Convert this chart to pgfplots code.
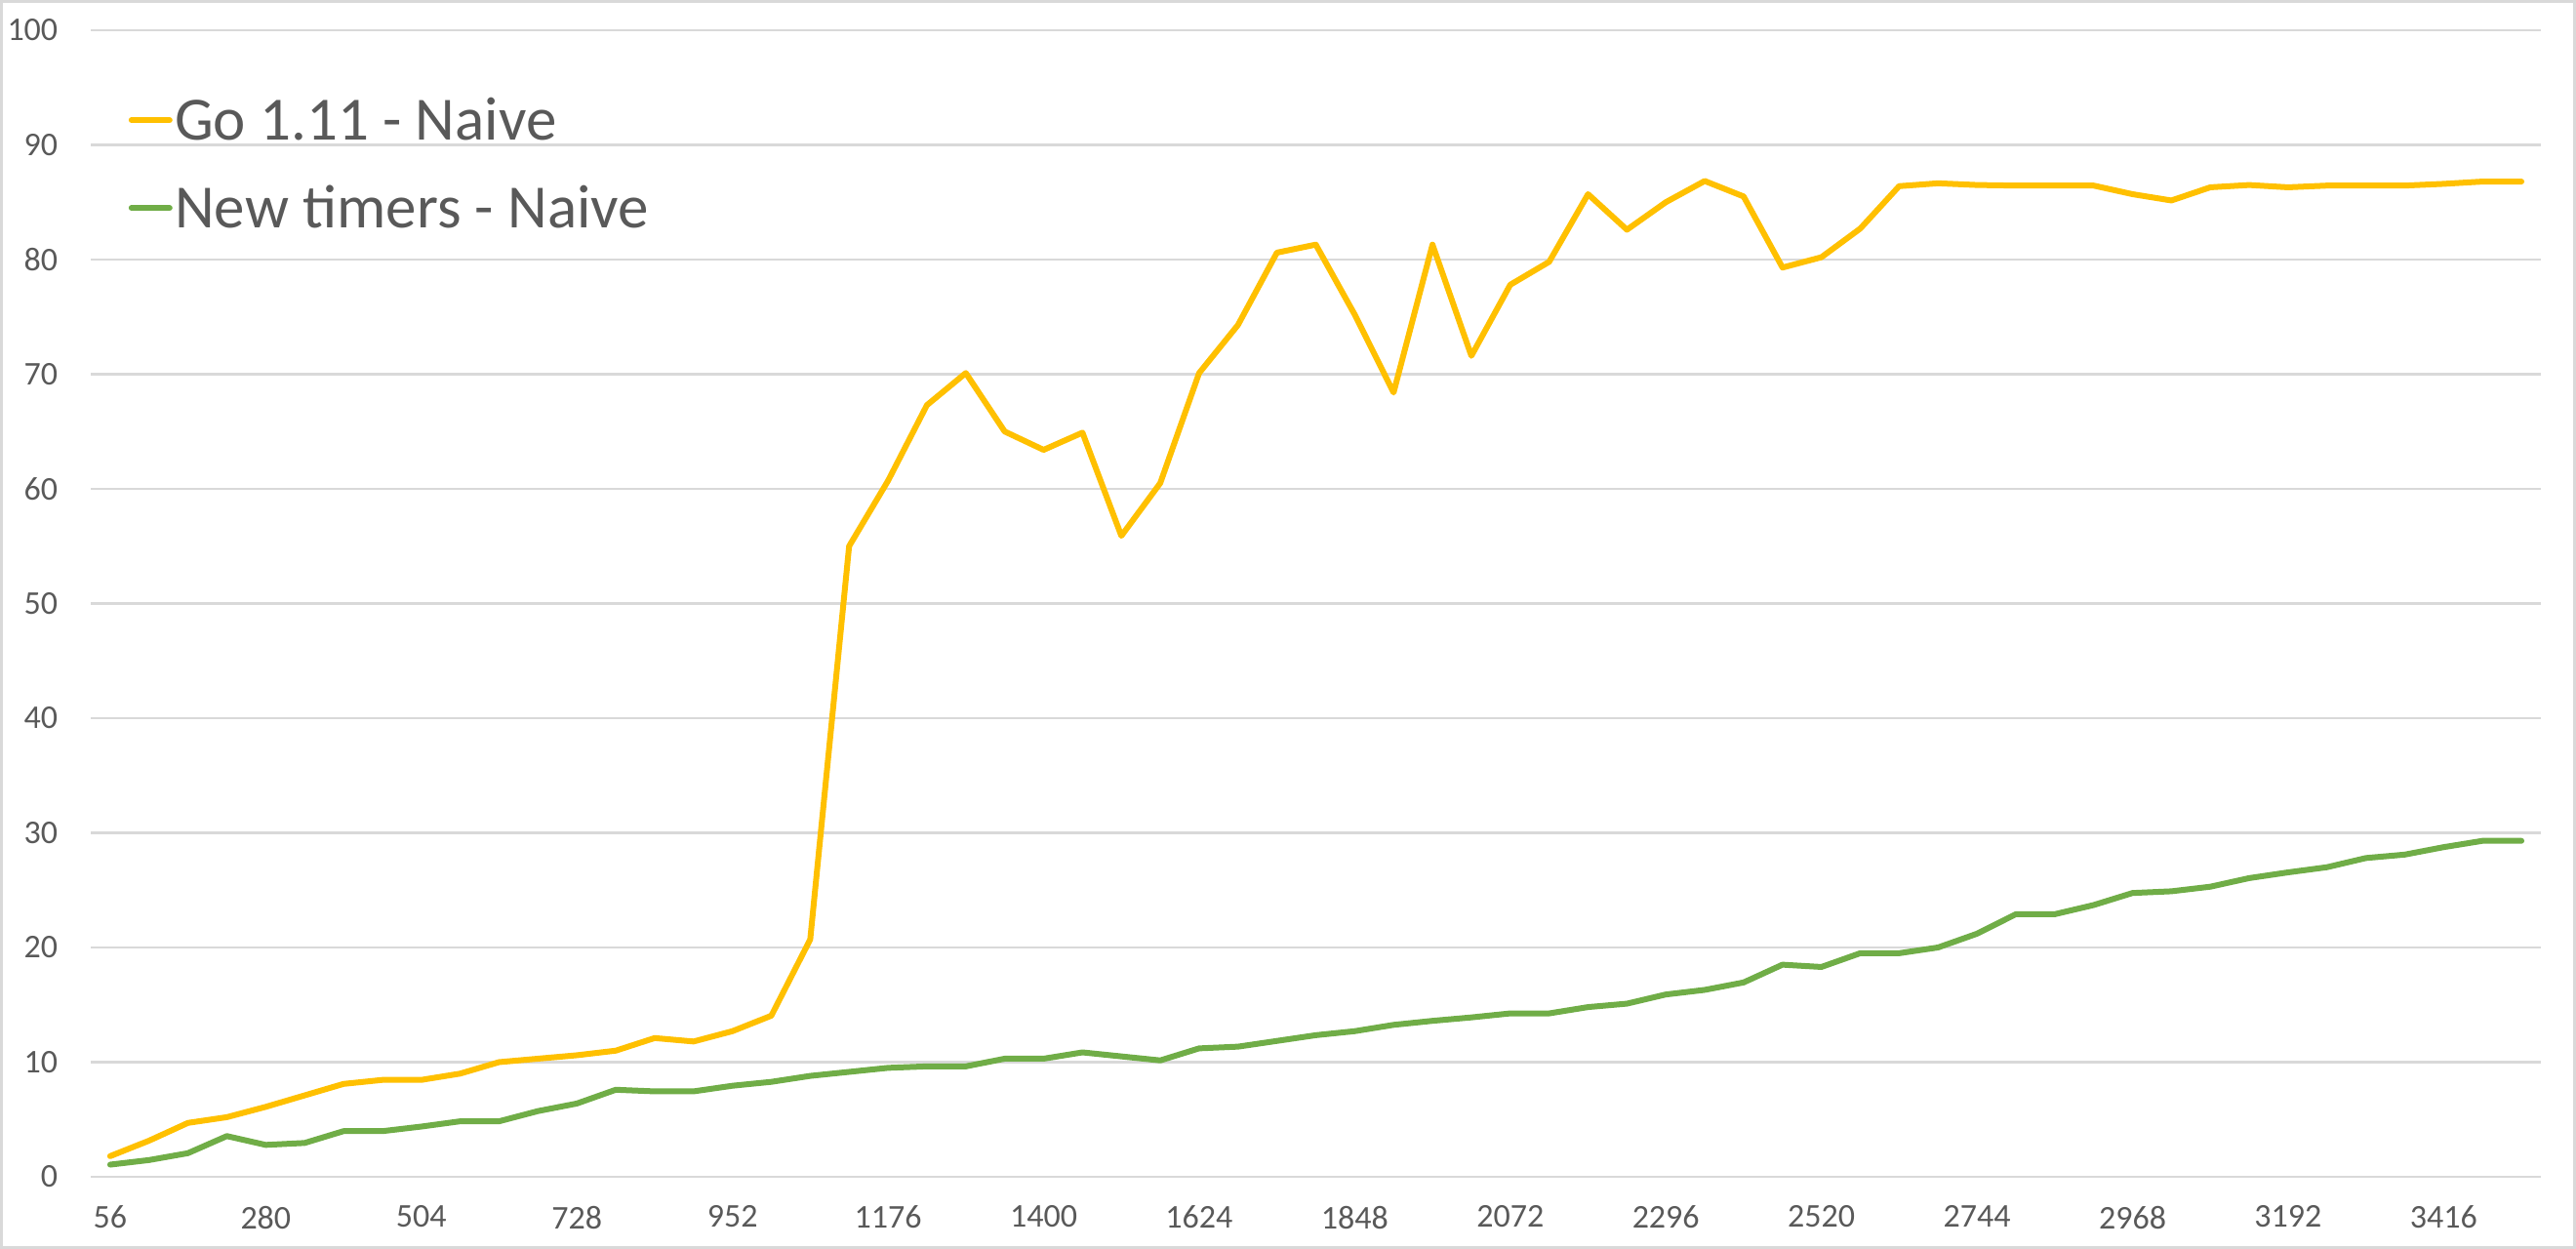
\documentclass[border=0pt]{standalone}
\usepackage{fontspec}
\setmainfont{Carlito}
\usepackage{pgfplots}
\usepackage{pgfplotstable}
\pgfplotsset{compat=1.18}
\definecolor{goy}{HTML}{FFC000}
\definecolor{newg}{HTML}{70AD47}
\definecolor{gridg}{HTML}{D9D9D9}
\definecolor{txt}{HTML}{595959}
\pgfplotsset{legend image code/.code={\draw[#1, line cap=round] (0pt,0pt) -- (9.75pt,0pt);}}

\pgfplotstableread{
i go new
0 1.8 1.06
1 3.15 1.46
2 4.7 2.06
3 5.2 3.55
4 6.1 2.78
5 7.1 2.95
6 8.1 3.98
7 8.45 3.98
8 8.45 4.38
9 9.0 4.84
10 10.0 4.84
11 10.3 5.73
12 10.6 6.39
13 11.0 7.59
14 12.1 7.45
15 11.8 7.45
16 12.7 7.94
17 14.05 8.28
18 20.7 8.8
19 55.0 9.15
20 60.7 9.5
21 67.3 9.63
22 70.1 9.63
23 65.0 10.3
24 63.4 10.3
25 64.9 10.85
26 55.9 10.5
27 60.5 10.15
28 70.1 11.2
29 74.3 11.35
30 80.6 11.85
31 81.3 12.35
32 75.2 12.7
33 68.4 13.25
34 81.3 13.6
35 71.6 13.9
36 77.8 14.25
37 79.8 14.25
38 85.7 14.8
39 82.6 15.1
40 85.0 15.9
41 86.85 16.3
42 85.5 16.95
43 79.3 18.5
44 80.2 18.3
45 82.7 19.5
46 86.4 19.5
47 86.65 20.0
48 86.5 21.2
49 86.45 22.9
50 86.45 22.9
51 86.45 23.7
52 85.7 24.75
53 85.15 24.9
54 86.3 25.3
55 86.5 26.05
56 86.3 26.55
57 86.45 27.0
58 86.45 27.8
59 86.45 28.1
60 86.6 28.75
61 86.8 29.3
62 86.8 29.3
}\data

\begin{document}
\begin{tikzpicture}
\useasboundingbox (0,0) rectangle (660pt,320pt);
\draw[gridg, line width=0.75pt] (0.375pt,0.375pt) rectangle (659.625pt,319.625pt);
\begin{axis}[
  at={(23.25pt,18.5pt)}, anchor=south west,
  scale only axis, width=627.75pt, height=293.75pt,
  xmin=-0.5, xmax=62.5, ymin=0, ymax=100,
  axis line style={draw=none},
  major tick length=0pt,
  tick style={draw=none},
  ymajorgrids, grid style={gridg, line width=0.55pt},
  xtick={0,4,...,60},
  xticklabels={56,280,504,728,952,1176,1400,1624,1848,2072,2296,2520,2744,2968,3192,3416},
  ytick={0,10,...,100},
  /pgf/number format/assume math mode=true,
  ticklabel style={font=\fontsize{8.5}{10}\selectfont, text=txt},
  yticklabel style={anchor=east, inner sep=0pt, xshift=-8.25pt},
  xticklabel style={anchor=north, inner sep=0pt, yshift=-7.25pt},
  legend style={at={(0,1)}, anchor=north west, xshift=9.5pt, yshift=-17.75pt,
    draw=none, fill=none, inner sep=0pt, row sep=12.3pt,
    font=\fontsize{15.75}{18}\selectfont, text=txt,
    nodes={inner sep=0pt, text height=10.2pt, text depth=0pt},
    /tikz/column 1/.style={column sep=0.6pt}},
  legend cell align=left,
]
\addplot[goy, line width=1.5pt, line join=round, line cap=round] table[x=i, y=go] {\data};
\addlegendentry{Go 1.11 - Naive}
\addplot[newg, line width=1.5pt, line join=round, line cap=round] table[x=i, y=new] {\data};
\addlegendentry{New timers - Naive}
\end{axis}
\end{tikzpicture}
\end{document}
